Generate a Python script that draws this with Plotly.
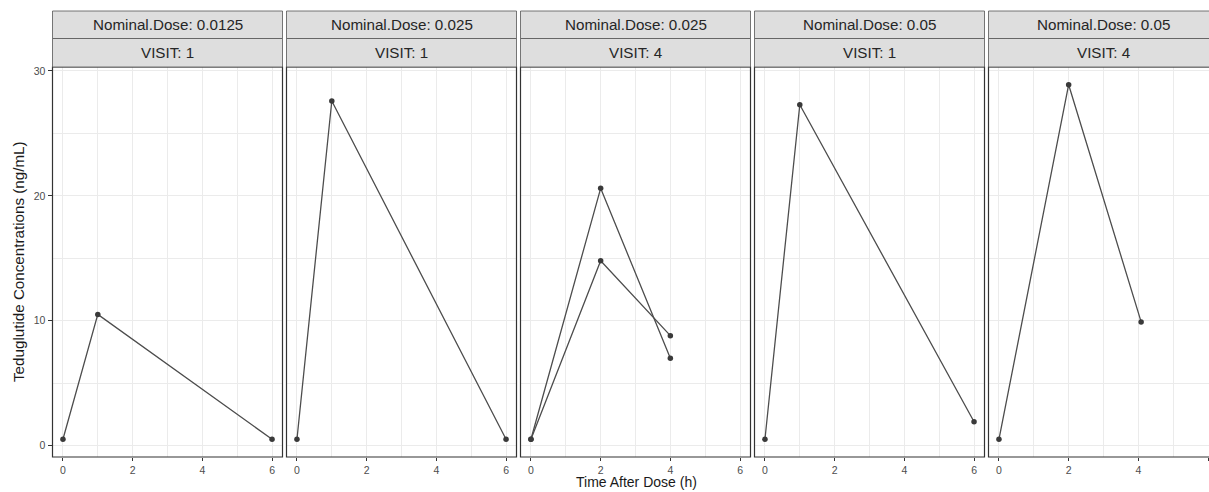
import plotly.graph_objects as go

# Facet labels (one panel per dose / visit combination)
panel_dose = ["0.0125", "0.025", "0.025", "0.05", "0.05"]
panel_visit = ["1", "1", "4", "1", "4"]

# Concentration-time profiles, one entry per subject profile
subj_panel = [0, 1, 2, 2, 3, 4]
subj_time = [
    [0, 1, 6],
    [0, 1, 6],
    [0, 2, 4],
    [0, 2, 4],
    [0, 1, 6],
    [0, 2, 4.08],
]
subj_conc = [
    [0.5, 10.5, 0.5],
    [0.5, 27.6, 0.5],
    [0.5, 20.6, 7.0],
    [0.5, 14.8, 8.8],
    [0.5, 27.3, 1.9],
    [0.5, 28.9, 9.9],
]

x_ticks = [0, 2, 4, 6]
y_ticks = [0, 10, 20, 30]

# Page geometry (pixels)
W, H = 1209, 492
panel_left0 = 52.5
panel_step = 234
panel_w = 230
plot_top, plot_bot = 67, 457
strip_top, strip_mid = 11, 38.5
x_range = [-0.3, 6.3]
y_range = [-0.92, 30.32]

FONT = "Liberation Sans, Arial, sans-serif"
BORDER = "#333333"
GRID = "#EBEBEB"


def px_x(p):
    return p / W


def px_y(p):
    return (H - p) / H


fig = go.Figure()

layout = dict(
    width=W,
    height=H,
    margin=dict(l=0, r=0, t=0, b=0),
    paper_bgcolor="white",
    plot_bgcolor="white",
    showlegend=False,
    font=dict(family=FONT),
    template="none",
)

shapes = []
annotations = []
ppu = panel_w / (x_range[1] - x_range[0])

for i in range(len(panel_dose)):
    left = panel_left0 + panel_step * i
    right = left + panel_w
    d1 = min(right, W) / W
    rng = list(x_range)
    if right > W:
        rng[1] = x_range[0] + (W - left) / ppu
    xa = "xaxis" if i == 0 else f"xaxis{i + 1}"
    ya = "yaxis" if i == 0 else f"yaxis{i + 1}"
    xref = "x" if i == 0 else f"x{i + 1}"
    yref = "y" if i == 0 else f"y{i + 1}"

    layout[xa] = dict(
        domain=[px_x(left), d1],
        range=rng,
        anchor=yref,
        tickvals=x_ticks,
        ticktext=[str(t) for t in x_ticks],
        ticks="outside",
        ticklen=3,
        tickwidth=1,
        tickcolor=BORDER,
        tickfont=dict(size=10.5, color="#4D4D4D", family=FONT),
        showgrid=True,
        gridcolor=GRID,
        gridwidth=1.2,
        minor=dict(dtick=1, tick0=0, showgrid=True, gridcolor=GRID, gridwidth=0.6, ticks=""),
        zeroline=False,
        showline=False,
        automargin=False,
        fixedrange=True,
    )
    layout[ya] = dict(
        domain=[px_y(plot_bot), px_y(plot_top)],
        range=y_range,
        anchor=xref,
        tickvals=y_ticks,
        ticktext=[str(t) for t in y_ticks],
        ticks="outside" if i == 0 else "",
        ticklen=4,
        tickwidth=1,
        tickcolor=BORDER,
        showticklabels=(i == 0),
        tickfont=dict(size=10.5, color="#4D4D4D", family=FONT),
        showgrid=True,
        gridcolor=GRID,
        gridwidth=1.2,
        minor=dict(dtick=5, tick0=0, showgrid=True, gridcolor=GRID, gridwidth=0.6, ticks=""),
        zeroline=False,
        showline=False,
        automargin=False,
        fixedrange=True,
    )

    # panel border
    shapes.append(dict(type="rect", xref="paper", yref="paper",
                       x0=px_x(left), x1=px_x(right), y0=px_y(plot_bot), y1=px_y(plot_top),
                       line=dict(color=BORDER, width=1.2), fillcolor="rgba(0,0,0,0)", layer="above"))
    # two strip boxes
    for (t, b, txt) in [(strip_top, strip_mid, f"Nominal.Dose: {panel_dose[i]}"),
                        (strip_mid, plot_top, f"VISIT: {panel_visit[i]}")]:
        shapes.append(dict(type="rect", xref="paper", yref="paper",
                           x0=px_x(left), x1=px_x(right), y0=px_y(b), y1=px_y(t),
                           line=dict(color="#555555", width=0.8), fillcolor="#DEDEDE", layer="above"))
        annotations.append(dict(xref="paper", yref="paper",
                                x=px_x((left + right) / 2), y=px_y((t + b) / 2),
                                text=txt, showarrow=False, xanchor="center", yanchor="middle",
                                font=dict(size=15.2, color="#262626", family=FONT)))

# axis titles
annotations.append(dict(xref="paper", yref="paper", x=px_x(636), y=0,
                        text="Time After Dose (h)", showarrow=False,
                        xanchor="center", yanchor="bottom",
                        font=dict(size=14, color="#1A1A1A", family=FONT)))
annotations.append(dict(xref="paper", yref="paper", x=px_x(18), y=px_y(262),
                        text="Teduglutide Concentrations (ng/mL)", showarrow=False,
                        textangle=-90, xanchor="center", yanchor="middle",
                        font=dict(size=15.2, color="#1A1A1A", family=FONT)))

for p, t, c in zip(subj_panel, subj_time, subj_conc):
    fig.add_trace(go.Scatter(
        x=t, y=c, mode="lines+markers",
        xaxis="x" if p == 0 else f"x{p + 1}",
        yaxis="y" if p == 0 else f"y{p + 1}",
        line=dict(color="#4D4D4D", width=1.3),
        marker=dict(color="#3A3A3A", size=5.5),
        cliponaxis=False,
        hoverinfo="skip",
    ))

layout["shapes"] = shapes
layout["annotations"] = annotations
fig.update_layout(**layout)

fig.write_html("out.html")
